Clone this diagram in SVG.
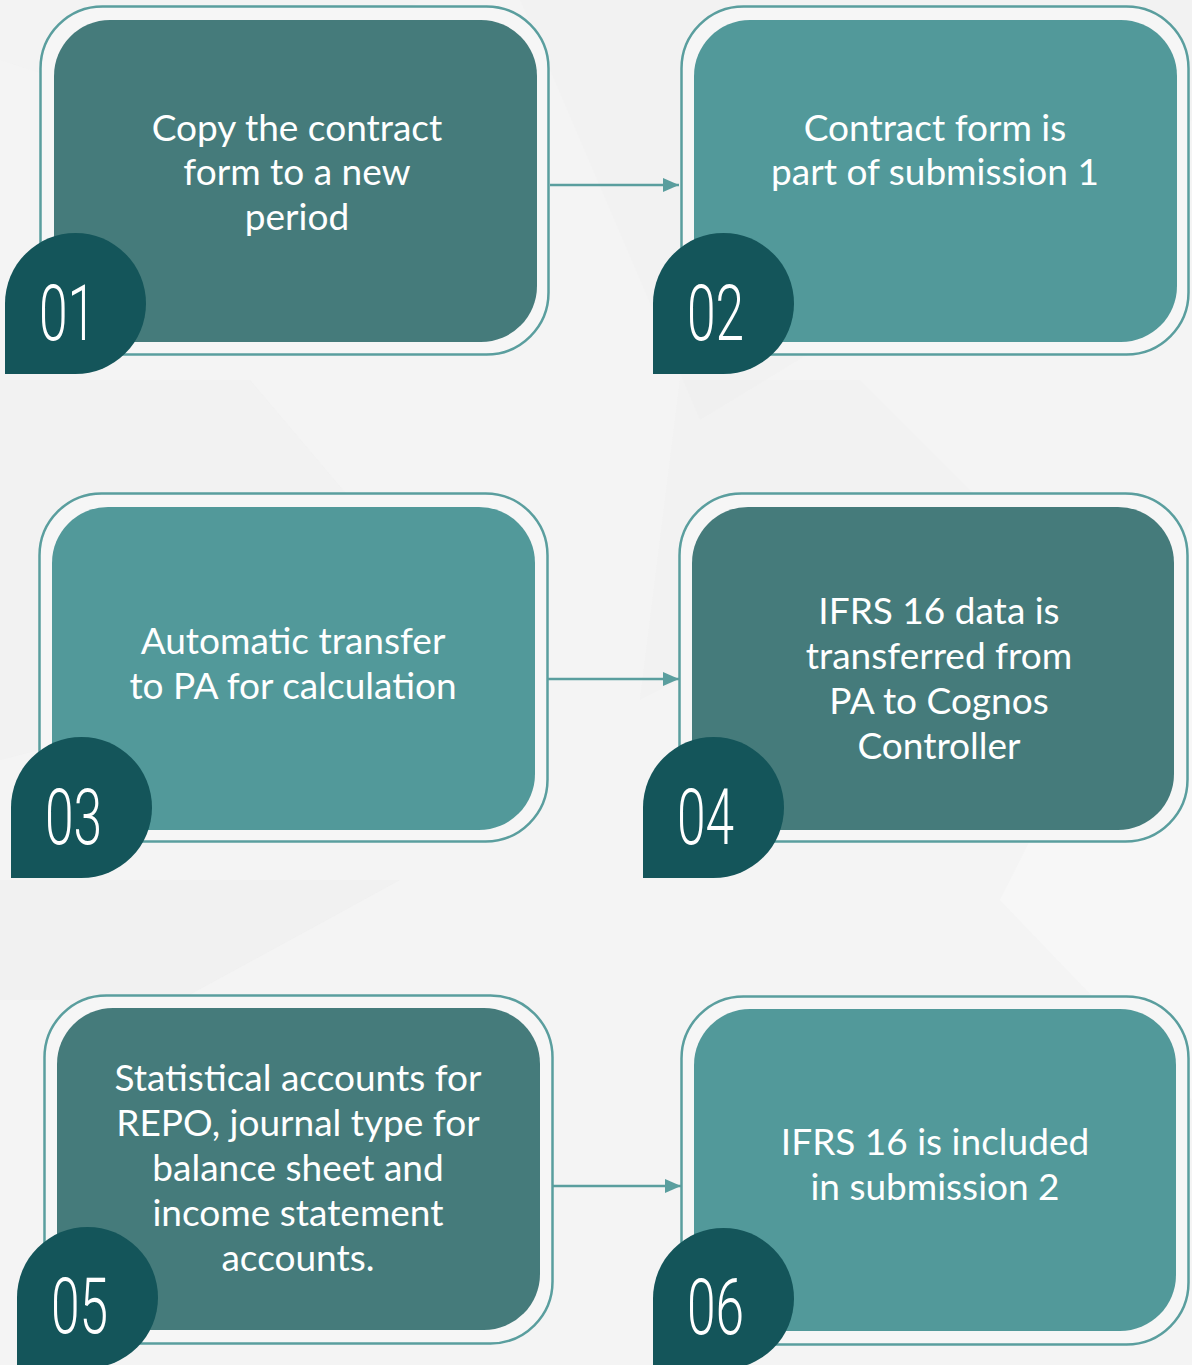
<svg xmlns="http://www.w3.org/2000/svg" width="1192" height="1365" viewBox="0 0 1192 1365">
<defs>
<style>
.outer{fill:#f6f6f6;stroke:#5a9e9e;stroke-width:2.5}
.dark{fill:#457b7b}
.light{fill:#52999a}
.badge{fill:#14555a}
.lbl{font-family:Lato,"Liberation Sans",sans-serif;font-size:37px;fill:#ffffff;text-anchor:middle}
.num{font-family:Roboto,"Liberation Sans",sans-serif;font-weight:300;font-size:78px;fill:#ffffff}
.conn{stroke:#5a9e9e;stroke-width:2.5;fill:none}
</style>
<marker id="ah" viewBox="0 0 16 14" refX="16" refY="7" markerWidth="16" markerHeight="14" markerUnits="userSpaceOnUse" orient="auto">
<path d="M0,0 L16,7 L0,14 Z" fill="#5a9e9e"/>
</marker>
</defs>
<rect x="0" y="0" width="1192" height="1365" fill="#f4f4f4"/>
<g id="background">
<polygon points="0,0 420,0 250,140 0,60" fill="#f1f1f1" opacity="0.6"/>
<polygon points="520,0 1192,0 1192,120 700,420" fill="#efefef" opacity="0.4"/>
<polygon points="0,380 250,380 470,640 0,760" fill="#f0f0f0" opacity="0.5"/>
<polygon points="680,380 860,380 1000,520 640,700" fill="#efefef" opacity="0.35"/>
<polygon points="0,880 400,880 180,1000 0,1000" fill="#eeeeee" opacity="0.5"/>
<polygon points="1192,520 1192,1100 1000,900" fill="#f7f7f7"/>
</g>
<g id="connectors">
<line class="conn" x1="550" y1="185" x2="679" y2="185" marker-end="url(#ah)"/>
<line class="conn" x1="548" y1="679" x2="679" y2="679" marker-end="url(#ah)"/>
<line class="conn" x1="553" y1="1186" x2="681" y2="1186" marker-end="url(#ah)"/>
</g>
<g id="node1">
<rect class="outer" x="40.5" y="6.5" width="508" height="348" rx="62"/>
<rect class="dark" x="54" y="20" width="483" height="322" rx="56"/>
<text class="lbl" x="297" y="141">Copy the contract</text>
<text class="lbl" x="297" y="185">form to a new</text>
<text class="lbl" x="297" y="230">period</text>
<path class="badge" d="M5,374 V303.5 A70.5,70.5 0 1 1 75.5,374 Z"/>
<text class="num" transform="translate(39,340) scale(0.66,1)">01</text>
</g>
<g id="node2">
<rect class="outer" x="681.5" y="6.5" width="507" height="348" rx="62"/>
<rect class="light" x="694" y="20" width="483" height="322" rx="56"/>
<text class="lbl" x="935" y="141">Contract form is</text>
<text class="lbl" x="935" y="185">part of submission 1</text>
<path class="badge" d="M653,374 V303.5 A70.5,70.5 0 1 1 723.5,374 Z"/>
<text class="num" transform="translate(687,340) scale(0.66,1)">02</text>
</g>
<g id="node3">
<rect class="outer" x="39.5" y="493.5" width="508" height="348" rx="62"/>
<rect class="light" x="52" y="507" width="483" height="323" rx="56"/>
<text class="lbl" x="293" y="654">Automatic transfer</text>
<text class="lbl" x="293" y="699">to PA for calculation</text>
<path class="badge" d="M11,878 V807.5 A70.5,70.5 0 1 1 81.5,878 Z"/>
<text class="num" transform="translate(45,844) scale(0.66,1)">03</text>
</g>
<g id="node4">
<rect class="outer" x="679.5" y="493.5" width="508" height="348" rx="62"/>
<rect class="dark" x="692" y="507" width="482" height="323" rx="56"/>
<text class="lbl" x="939" y="624">IFRS 16 data is</text>
<text class="lbl" x="939" y="669">transferred from</text>
<text class="lbl" x="939" y="714">PA to Cognos</text>
<text class="lbl" x="939" y="759">Controller</text>
<path class="badge" d="M643,878 V807.5 A70.5,70.5 0 1 1 713.5,878 Z"/>
<text class="num" transform="translate(677,844) scale(0.66,1)">04</text>
</g>
<g id="node5">
<rect class="outer" x="44.5" y="995.5" width="508" height="348" rx="62"/>
<rect class="dark" x="57" y="1008" width="483" height="322" rx="56"/>
<text class="lbl" x="298" y="1091">Statistical accounts for</text>
<text class="lbl" x="298" y="1136">REPO, journal type for</text>
<text class="lbl" x="298" y="1181">balance sheet and</text>
<text class="lbl" x="298" y="1226">income statement</text>
<text class="lbl" x="298" y="1271">accounts.</text>
<path class="badge" d="M17,1368 V1297.5 A70.5,70.5 0 1 1 87.5,1368 Z"/>
<text class="num" transform="translate(51,1333) scale(0.66,1)">05</text>
</g>
<g id="node6">
<rect class="outer" x="681.5" y="996.5" width="507" height="348" rx="62"/>
<rect class="light" x="694" y="1009" width="482" height="322" rx="56"/>
<text class="lbl" x="935" y="1155">IFRS 16 is included</text>
<text class="lbl" x="935" y="1200">in submission 2</text>
<path class="badge" d="M653,1369 V1298.5 A70.5,70.5 0 1 1 723.5,1369 Z"/>
<text class="num" transform="translate(687,1334) scale(0.66,1)">06</text>
</g>
</svg>
